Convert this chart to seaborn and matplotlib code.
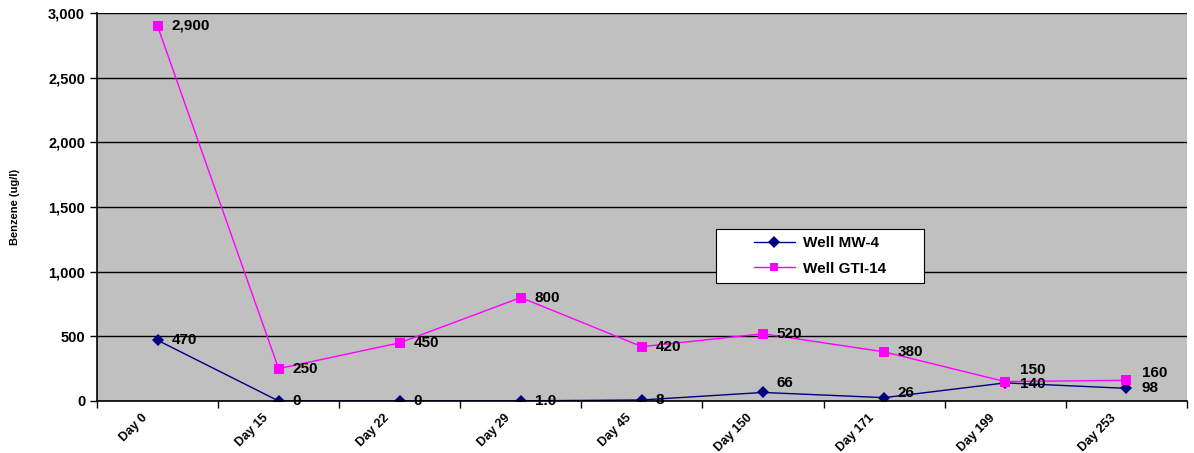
import pandas as pd
import seaborn as sns
import matplotlib.pyplot as plt
from matplotlib.patches import Rectangle
from matplotlib.ticker import FuncFormatter, FixedLocator

# Dados
dias = ["Day 0", "Day 15", "Day 22", "Day 29", "Day 45", "Day 150", "Day 171", "Day 199", "Day 253"]
mw4 = [470, 0, 0, 1.0, 8, 66, 26, 140, 98]
gti14 = [2900, 250, 450, 800, 420, 520, 380, 150, 160]
rotulos_mw4 = ["470", "0", "0", "1.0", "8", "66", "26", "140", "98"]
rotulos_gti14 = ["2,900", "250", "450", "800", "420", "520", "380", "150", "160"]

df = pd.DataFrame({"Dia": dias * 2,
                   "Benzeno": mw4 + gti14,
                   "Poco": ["Well MW-4"] * len(dias) + ["Well GTI-14"] * len(dias)})

sns.set_style("white")
plt.rcParams['font.family'] = ['Liberation Sans', 'DejaVu Sans']
plt.rcParams['font.weight'] = 'bold'
for k in ['text.color', 'axes.labelcolor', 'xtick.color', 'ytick.color']:
    plt.rcParams[k] = 'black'

fig = plt.figure(figsize=(11.94, 4.53), dpi=100)
ax = fig.add_axes([0.0812, 0.1148, 0.9128, 0.8565])
ax.set_facecolor("#C0C0C0")

sns.lineplot(data=df, x="Dia", y="Benzeno", hue="Poco", style="Poco",
             palette={"Well MW-4": "#000080", "Well GTI-14": "#FF00FF"},
             markers={"Well MW-4": "D", "Well GTI-14": "s"}, dashes=False,
             markersize=6, linewidth=1, markeredgewidth=0, ax=ax, sort=False)
ax.lines[1].set_markersize(7.5)

# rótulos dos pontos (deslocamento em pontos)
off_mw4 = [(10, 0), (10, 0), (10, 0), (10, 0), (10, 0), (10, 7), (10, 3), (11, -1), (11, 0)]
off_gti = [(10, 0), (10, 0), (10, 0), (10, 0), (10, 0), (10, 0), (10, 0), (11, 8), (11, 5)]
for i, d in enumerate(dias):
    ax.annotate(rotulos_mw4[i], xy=(i, mw4[i]), xytext=off_mw4[i], textcoords="offset points",
                fontsize=11, fontweight="bold", va="center")
    ax.annotate(rotulos_gti14[i], xy=(i, gti14[i]), xytext=off_gti[i], textcoords="offset points",
                fontsize=11, fontweight="bold", va="center")

ax.set_xlim(-0.5, 8.5)
ax.set_ylim(0, 3000)
ax.set_yticks(range(0, 3001, 500))
ax.yaxis.set_major_formatter(FuncFormatter(lambda v, p: f"{int(v):,}"))
ax.grid(axis="y", color="black", linewidth=1)
ax.set_axisbelow(True)

# rótulos do eixo x um pouco à esquerda de cada categoria (como no Excel)
ax.set_xticks([i - 0.1 for i in range(len(dias))])
ax.set_xticklabels(dias, rotation=45, ha="right", va="center", rotation_mode="anchor", fontsize=9)
ax.xaxis.set_minor_locator(FixedLocator([i - 0.5 for i in range(len(dias) + 1)]))
ax.tick_params(axis="x", which="major", length=0, pad=11)
ax.tick_params(axis="x", which="minor", length=5, color="black", width=1, direction="out", bottom=True)
ax.tick_params(axis="y", length=5, color="black", width=1, direction="out", left=True, labelsize=10.5)

for s in ["top", "right"]:
    ax.spines[s].set_visible(False)
for s in ["left", "bottom"]:
    ax.spines[s].set_color("black")
    ax.spines[s].set_linewidth(1.2)

ax.set_xlabel("")
ax.set_ylabel("Benzene (ug/l)", fontsize=8, fontweight="bold", labelpad=20)

# caixa da legenda
caixa = Rectangle((0.5679, 0.3041), 0.1908, 0.1392, transform=ax.transAxes,
                  facecolor="white", edgecolor="black", linewidth=0.8, zorder=5)
ax.add_patch(caixa)
leg = ax.legend(loc="center", bbox_to_anchor=(0.6633, 0.3737), frameon=False, fontsize=11,
                handlelength=2.7, handletextpad=0.5, labelspacing=0.75, borderpad=0)
leg.set_zorder(6)
for t in leg.get_texts():
    t.set_fontweight("bold")

fig.savefig("out.png", dpi=100)
